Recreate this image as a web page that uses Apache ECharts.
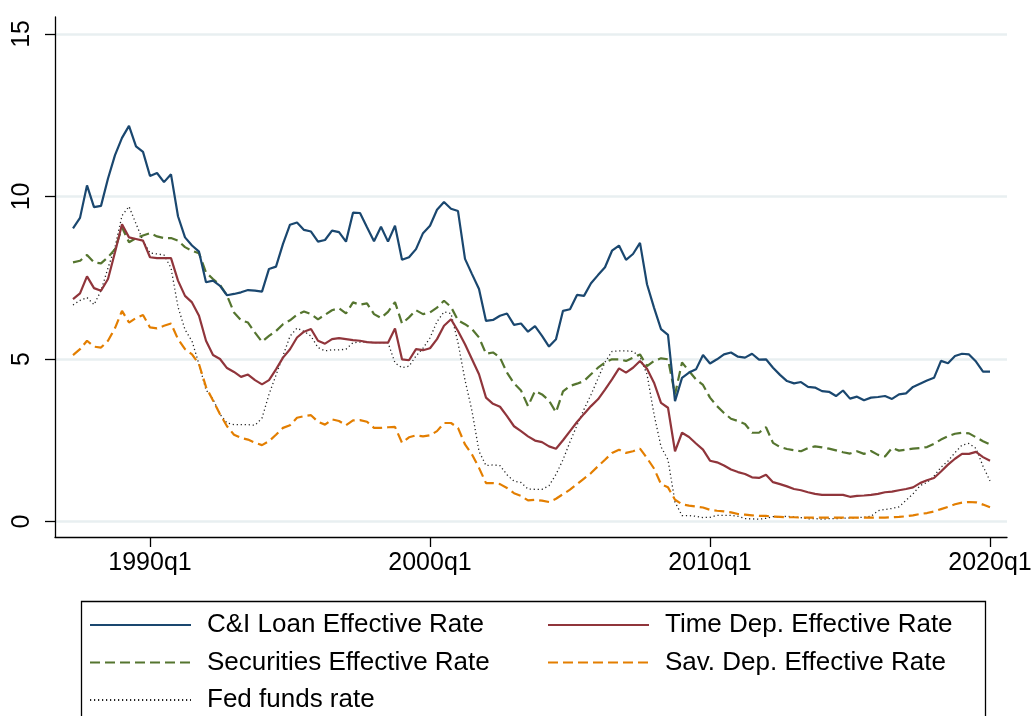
<!DOCTYPE html>
<html><head><meta charset="utf-8">
<script src="https://cdn.jsdelivr.net/npm/echarts@6/dist/echarts.min.js"></script>
<style>html,body{margin:0;padding:0;background:#fff}#c{width:1035px;height:716px}</style>
</head><body><div id="c"></div>
<script>
const startYear = 1987, startQuarter = 2;
const seriesNames = ['C&I Loan Effective Rate','Time Dep. Effective Rate','Securities Effective Rate','Sav. Dep. Effective Rate','Fed funds rate'];
const ciLoan = [9.02,9.34,10.34,9.67,9.71,10.55,11.27,11.8,12.17,11.54,
11.37,10.63,10.72,10.44,10.68,9.39,8.74,8.49,8.3,7.36,
7.41,7.25,6.96,7.0,7.05,7.12,7.1,7.07,7.77,7.84,
8.54,9.13,9.2,8.97,8.92,8.61,8.66,8.95,8.9,8.61,
9.5,9.49,9.05,8.62,9.07,8.61,9.1,8.05,8.13,8.38,
8.87,9.1,9.59,9.83,9.62,9.55,8.08,7.61,7.15,6.17,
6.2,6.33,6.4,6.05,6.09,5.84,6.01,5.71,5.38,5.61,
6.48,6.53,6.97,6.94,7.33,7.58,7.82,8.33,8.49,8.05,
8.23,8.57,7.3,6.58,5.92,5.74,3.7,4.42,4.58,4.68,
5.12,4.86,4.99,5.14,5.2,5.07,5.04,5.16,4.98,4.99,
4.73,4.51,4.32,4.25,4.29,4.14,4.12,4.01,3.99,3.86,
4.03,3.78,3.84,3.73,3.81,3.83,3.86,3.77,3.91,3.94,
4.14,4.24,4.34,4.42,4.94,4.87,5.09,5.16,5.14,4.92,
4.61,4.61];
const timeDep = [6.84,7.02,7.54,7.18,7.1,7.46,8.28,9.14,8.74,8.69,
8.64,8.13,8.1,8.1,8.1,7.41,6.94,6.74,6.33,5.56,
5.12,5.0,4.72,4.6,4.45,4.52,4.35,4.22,4.35,4.68,
5.04,5.3,5.66,5.84,5.92,5.56,5.47,5.61,5.64,5.61,
5.58,5.56,5.52,5.5,5.5,5.5,5.94,4.99,4.96,5.3,
5.27,5.33,5.61,6.02,6.22,5.86,5.45,4.99,4.53,3.81,
3.62,3.53,3.24,2.93,2.78,2.62,2.49,2.44,2.31,2.24,
2.5,2.78,3.06,3.31,3.55,3.76,4.06,4.37,4.71,4.58,
4.73,4.94,4.7,4.27,3.65,3.5,2.16,2.73,2.6,2.4,
2.21,1.87,1.82,1.72,1.6,1.52,1.46,1.36,1.34,1.44,
1.21,1.15,1.08,1.0,0.96,0.9,0.85,0.82,0.82,0.82,
0.82,0.76,0.79,0.8,0.82,0.85,0.9,0.92,0.96,1.0,
1.05,1.18,1.27,1.34,1.54,1.75,1.93,2.08,2.08,2.14,
1.98,1.87];
const securities = [7.97,8.02,8.2,7.97,7.94,8.13,8.38,9.05,8.59,8.72,
8.8,8.87,8.77,8.72,8.72,8.64,8.44,8.33,8.25,7.66,
7.46,7.28,6.95,6.43,6.19,6.12,5.81,5.53,5.71,5.86,
6.07,6.19,6.36,6.46,6.38,6.22,6.36,6.5,6.56,6.4,
6.74,6.67,6.71,6.38,6.26,6.45,6.75,6.09,6.28,6.5,
6.38,6.43,6.58,6.79,6.6,6.19,6.07,5.92,5.66,5.16,
5.2,5.04,4.58,4.25,4.03,3.55,4.01,3.91,3.72,3.36,
4.0,4.17,4.24,4.32,4.53,4.73,4.89,4.99,4.99,4.94,
5.04,5.14,4.78,4.94,5.02,4.99,3.91,4.89,4.63,4.37,
4.2,3.81,3.55,3.34,3.16,3.09,3.0,2.73,2.73,2.9,
2.42,2.29,2.23,2.19,2.16,2.26,2.31,2.28,2.24,2.19,
2.13,2.09,2.16,2.08,2.17,2.05,2.0,2.26,2.18,2.21,
2.24,2.26,2.29,2.39,2.52,2.62,2.7,2.73,2.71,2.59,
2.47,2.37];
const savDep = [5.12,5.3,5.56,5.38,5.35,5.56,5.95,6.48,6.12,6.26,
6.35,5.97,5.94,6.02,6.09,5.61,5.3,5.14,4.84,4.14,
3.72,3.3,2.93,2.67,2.57,2.52,2.42,2.35,2.47,2.67,
2.88,2.96,3.19,3.24,3.27,3.07,2.98,3.14,3.09,2.96,
3.11,3.12,3.07,2.88,2.88,2.9,2.91,2.42,2.59,2.65,
2.62,2.65,2.78,3.03,3.03,2.88,2.37,2.06,1.65,1.18,
1.18,1.15,1.03,0.87,0.79,0.65,0.67,0.64,0.6,0.7,
0.84,0.98,1.15,1.32,1.49,1.7,1.9,2.11,2.21,2.11,
2.16,2.24,1.95,1.63,1.15,1.05,0.67,0.53,0.49,0.46,
0.43,0.36,0.33,0.31,0.28,0.23,0.21,0.19,0.17,0.17,
0.15,0.14,0.13,0.13,0.12,0.12,0.12,0.12,0.12,0.12,
0.12,0.12,0.12,0.12,0.12,0.12,0.12,0.13,0.14,0.16,
0.19,0.23,0.26,0.31,0.38,0.45,0.53,0.58,0.6,0.59,
0.52,0.44];
const fedFunds = [6.66,6.8,6.89,6.67,7.1,7.8,8.44,9.41,9.69,9.16,
8.64,8.26,8.23,8.2,7.8,6.6,5.9,5.55,4.84,4.05,
3.76,3.3,3.03,2.98,2.98,2.98,2.96,3.18,3.91,4.5,
5.1,5.7,5.95,5.85,5.7,5.35,5.25,5.28,5.28,5.3,
5.5,5.52,5.52,5.5,5.5,5.5,4.88,4.73,4.78,5.09,
5.33,5.65,6.15,6.45,6.4,5.5,4.35,3.4,2.16,1.72,
1.74,1.72,1.44,1.24,1.2,1.0,0.99,0.99,1.1,1.45,
1.9,2.45,2.96,3.45,3.9,4.4,4.9,5.23,5.25,5.25,
5.23,5.06,4.53,3.3,2.3,1.9,0.6,0.18,0.18,0.16,
0.12,0.13,0.19,0.19,0.19,0.16,0.09,0.08,0.07,0.1,
0.15,0.14,0.16,0.14,0.12,0.08,0.09,0.07,0.09,0.09,
0.1,0.11,0.12,0.13,0.16,0.33,0.37,0.4,0.45,0.65,
0.85,1.1,1.2,1.4,1.67,1.86,2.12,2.35,2.4,2.25,
1.7,1.25];
const xTickValues = [1990, 2000, 2010, 2020];
const xTickLabels = ['1990q1','2000q1','2010q1','2020q1'];
const yTickValues = [0, 5, 10, 15];
const yTickLabels = ['0','5','10','15'];

const quarterTimes = ciLoan.map((_, i) => startYear + (startQuarter - 1 + i) / 4);
const pairs = vals => vals.map((v, i) => [quarterTimes[i], v]);

const FONT = 'Liberation Sans';
const chart = echarts.init(document.getElementById('c'), null, {renderer: 'canvas'});
const mk = (name, data, color, type, width) => ({
  name, type: 'line', data: pairs(data), symbol: 'none', showSymbol: false,
  lineStyle: {color, width, type}, itemStyle: {color}, animation: false
});
const legendBase = {
  orient: 'vertical', top: 610, itemWidth: 101, itemHeight: 14, itemGap: 7.5,
  selectedMode: false, padding: 0, itemStyle: {opacity: 0},
  textStyle: {fontSize: 26, lineHeight: 30, color: '#000', fontFamily: FONT, padding: [0, 0, 0, 11]}
};
chart.setOption({
  backgroundColor: '#ffffff',
  animation: false,
  textStyle: {fontFamily: FONT},
  grid: {left: 55, right: 28, top: 17, bottom: 179, containLabel: false},
  xAxis: {
    type: 'value', min: 1986.607, max: 2020.607,
    axisLine: {show: true, onZero: false, lineStyle: {color: '#000', width: 1.3}},
    axisTick: {show: true, customValues: xTickValues, length: 10, lineStyle: {color: '#000', width: 1.3}},
    axisLabel: {customValues: xTickValues, margin: 14, fontSize: 25, color: '#000', fontFamily: FONT,
      formatter: v => xTickLabels[xTickValues.indexOf(v)]},
    splitLine: {show: false}
  },
  yAxis: {
    type: 'value', min: -0.477, max: 15.52,
    axisLine: {show: true, onZero: false, lineStyle: {color: '#000', width: 1.3}},
    axisTick: {show: true, customValues: yTickValues, length: 10, lineStyle: {color: '#000', width: 1.3}},
    axisLabel: {customValues: yTickValues, rotate: 90, margin: 20, fontSize: 25, color: '#000', fontFamily: FONT,
      formatter: v => yTickLabels[yTickValues.indexOf(v)]},
    splitLine: {show: true, customValues: yTickValues, lineStyle: {color: '#e8eff1', width: 2.5}}
  },
  legend: [
    Object.assign({}, legendBase, {data: [seriesNames[0], seriesNames[2], seriesNames[4]], left: 89}),
    Object.assign({}, legendBase, {data: [seriesNames[1], seriesNames[3]], left: 547})
  ],
  graphic: [{type: 'rect', left: 79, top: 599, silent: true,
    shape: {width: 904, height: 140}, style: {fill: 'none', stroke: '#000', lineWidth: 1.3}}],
  series: [
    mk(seriesNames[4], fedFunds, '#222222', [1.2, 2.8], 1.3),
    mk(seriesNames[3], savDep, '#e37e00', [10, 5], 2.2),
    mk(seriesNames[2], securities, '#55752f', [10, 5], 2.2),
    mk(seriesNames[1], timeDep, '#90353b', 'solid', 2.2),
    mk(seriesNames[0], ciLoan, '#1a476f', 'solid', 2.2)
  ]
});
</script></body></html>
